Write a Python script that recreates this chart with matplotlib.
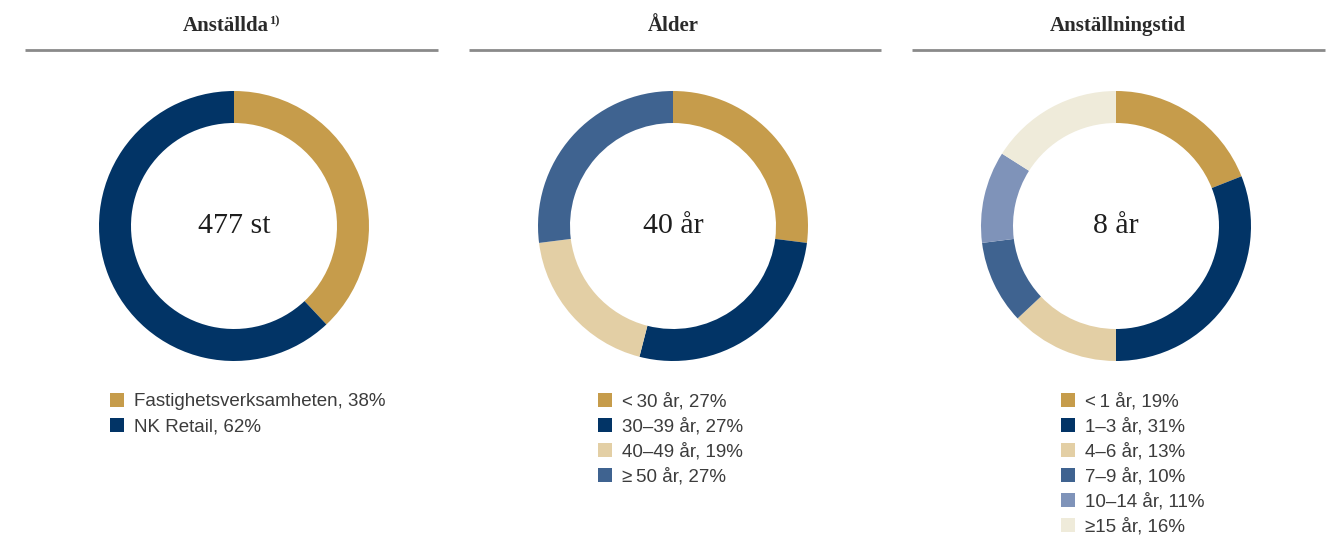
import matplotlib
matplotlib.use("Agg")
import matplotlib.pyplot as plt
from matplotlib.patches import Rectangle

# ── data ────────────────────────────────────────────
titles = ["Anställda", "Ålder", "Anställningstid"]
center_labels = ["477 st", "40 år", "8 år"]

staff_labels = ["Fastighetsverksamheten", "NK Retail"]
staff_share = [38, 62]

age_labels = ["<\u200930 år", "30–39 år", "40–49 år", "≥\u200950 år"]
age_share = [27, 27, 19, 27]

tenure_labels = ["<\u20091 år", "1–3 år", "4–6 år", "7–9 år", "10–14 år", "≥15 år"]
tenure_share = [19, 31, 13, 10, 11, 16]

GOLD = "#C69C4B"
NAVY = "#023466"
BEIGE = "#E3CFA5"
BLUE = "#3F6390"
LIGHT_BLUE = "#7F93B9"
CREAM = "#EFEBDA"

staff_colors = [GOLD, NAVY]
age_colors = [GOLD, NAVY, BEIGE, BLUE]
tenure_colors = [GOLD, NAVY, BEIGE, BLUE, LIGHT_BLUE, CREAM]

# ── layout (pixels, y measured from top) ───────────
W, H = 1335, 535
centers_x = [234, 673, 1116]
title_x = [226, 673, 1118]
center_y = 226
radius = 135
ring = 32
rule_spans = [(25, 438), (469, 881), (912, 1325)]
legend_x = [110, 598, 1061]
legend_y0 = 400
legend_step = 25

SERIF = ["Liberation Serif", "DejaVu Serif"]
SANS = ["Liberation Sans", "DejaVu Sans"]
TEXT_GREY = "#3c3c3c"

fig = plt.figure(figsize=(W / 100, H / 100), dpi=100)
ax = fig.add_axes([0, 0, 1, 1])


def y(px):
    return H - px


panels = [
    (staff_share, staff_labels, staff_colors),
    (age_share, age_labels, age_colors),
    (tenure_share, tenure_labels, tenure_colors),
]

for i, (vals, labels, colors) in enumerate(panels):
    cx = centers_x[i]

    # header and rule
    ax.text(title_x[i], y(26), titles[i], family=SERIF, fontsize=15,
            fontweight="bold", color="#2a2a2a", ha="center", va="center")
    x0, x1 = rule_spans[i]
    ax.plot([x0, x1], [y(50), y(50)], color="#8a8a8a", lw=2, solid_capstyle="butt")

    # donut
    ax.pie(vals, colors=colors, startangle=90, counterclock=False,
           radius=radius, center=(cx, y(center_y)),
           wedgeprops=dict(width=ring, linewidth=0))
    ax.text(cx, y(center_y), center_labels[i], family=SERIF, fontsize=21.5,
            color="#1e1e1e", ha="center", va="center")

    # legend
    for j, (lab, v, c) in enumerate(zip(labels, vals, colors)):
        ly = legend_y0 + j * legend_step
        ax.add_patch(Rectangle((legend_x[i], y(ly + 7)), 14, 14, color=c, lw=0))
        ax.text(legend_x[i] + 24, y(ly + 2), f"{lab}, {v}%", family=SANS,
                fontsize=13.5, color=TEXT_GREY, ha="left", va="center")

# footnote marker on the first header
ax.text(269, y(21), "1)", family=SERIF, fontsize=9,
        fontweight="bold", color="#2a2a2a", ha="left", va="center")

ax.set_xlim(0, W)
ax.set_ylim(0, H)
ax.set_aspect("equal")
ax.axis("off")

fig.savefig("out.png", dpi=100, facecolor="white")
